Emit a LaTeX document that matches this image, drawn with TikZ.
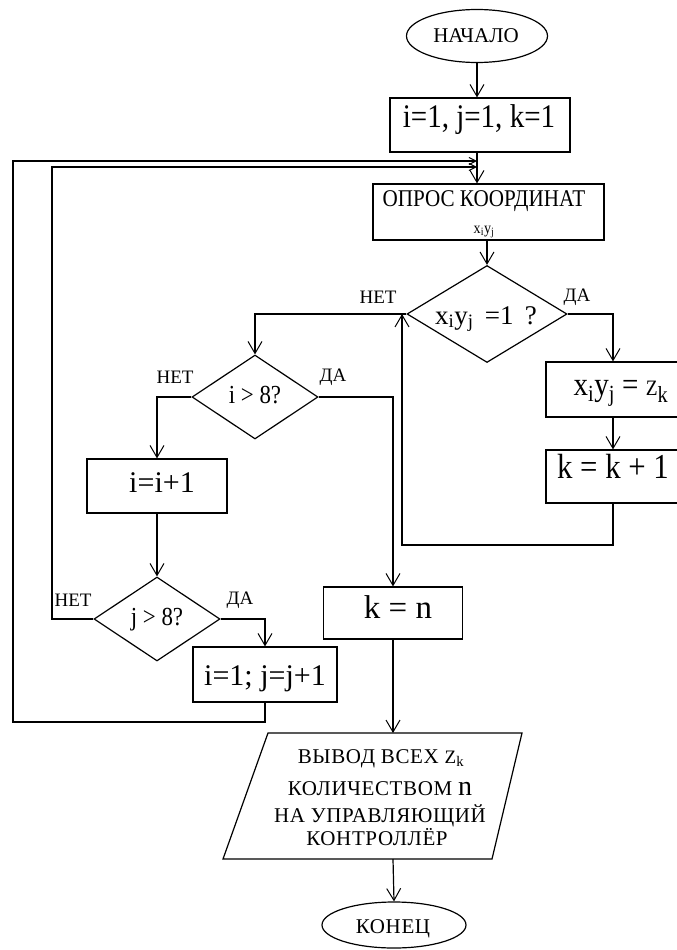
\documentclass[tikz,border=0pt]{standalone}
\usepackage{fontspec}
\setmainfont{Liberation Serif}
\newfontfamily\cond[FakeStretch=0.88]{Liberation Serif}
\newfontfamily\spaced[LetterSpace=3]{Liberation Serif}
\usetikzlibrary{shapes.geometric,arrows.meta}
\newcommand{\fsz}[1]{\fontsize{#1}{#1}\selectfont}
\begin{document}
\begin{tikzpicture}[x=1pt,y=-1pt,line width=1.2pt,
  boxn/.style={draw,rectangle,inner sep=0pt},
  dian/.style={draw,diamond,inner sep=0pt},
  ellin/.style={draw,ellipse,inner sep=0pt},
  txt/.style={inner sep=0pt,anchor=base},
  arr/.style={-{Straight Barb[length=12pt,width=14pt,line width=1pt]}},
  sarr/.style={-{Straight Barb[length=7pt,width=7pt,line width=1pt]}},
  lbl/.style={inner sep=0pt,font=\fsz{19}}]
\useasboundingbox (0,0) rectangle (677,950);
% nodes
\node[ellin,minimum width=141,minimum height=53] (start) at (477,36) {};
\node[txt,font=\fsz{21}] (tstart) at (476,43) {НАЧАЛО};
\node[boxn,minimum width=180,minimum height=54] (init) at (480,125) {};
\node[txt,font=\fsz{33}\cond] (tinit) at (479,127) {i=1, j=1, k=1};
\node[boxn,minimum width=231,minimum height=56] (opros) at (488.5,212) {};
\node[txt,font=\fsz{24}\cond] (topros1) at (484,206) {ОПРОС КООРДИНАТ};
\node[txt,font=\fsz{16}\cond] (topros2) at (484,233) {x\textsubscript{i}y\textsubscript{j}};
\node[dian,minimum width=160,minimum height=97] (d1) at (487,314) {};
\node[txt,font=\fsz{27}] (td1) at (486,324) {x\textsubscript{i}y\textsubscript{j}\, =1 \,?};
\node[boxn,minimum width=134,minimum height=55] (b1) at (613,389.5) {};
\node[txt,font=\fsz{33}\cond] (tb1) at (621,395) {x\textsubscript{i}y\textsubscript{j} = {\fsz{22}Z}\textsubscript{k}};
\node[boxn,minimum width=134,minimum height=53] (b2) at (613,476.5) {};
\node[txt,font=\fsz{35}\cond] (tb2) at (613,478) {k = k + 1};
\node[dian,minimum width=126,minimum height=84] (d2) at (255,397) {};
\node[txt,font=\fsz{26}\cond] (td2) at (255,403) {i > 8?};
\node[boxn,minimum width=140,minimum height=54] (b3) at (157,486) {};
\node[txt,font=\fsz{30}] (tb3) at (162,492) {i=i+1};
\node[dian,minimum width=126,minimum height=84] (d3) at (157,619) {};
\node[txt,font=\fsz{26}\cond] (td3) at (157,625) {j > 8?};
\node[boxn,minimum width=144,minimum height=55] (b4) at (265,674.5) {};
\node[txt,font=\fsz{30}] (tb4) at (265,685) {i=1; j=j+1};
\node[boxn,minimum width=139,minimum height=52] (b5) at (393,613) {};
\node[txt,font=\fsz{33}] (tb5) at (398,618) {k = n};
% parallelogram
\draw (268,733) -- (522,733) -- (492,859) -- (223,859) -- cycle;
\coordinate (ptop) at (393,733);
\coordinate (pbot) at (393,859);
\node[txt,font=\fsz{21}\spaced] (p1) at (381,763) {ВЫВОД ВСЕХ {\fsz{19}Z}\textsubscript{k}};
\node[txt,font=\fsz{21}\spaced] (p2) at (380,795) {КОЛИЧЕСТВОМ {\fsz{28}n}};
\node[txt,font=\fsz{21}\spaced] (p3) at (380,822) {НА УПРАВЛЯЮЩИЙ};
\node[txt,font=\fsz{21}\spaced] (p4) at (377,845) {КОНТРОЛЛЁР};
\node[ellin,minimum width=144,minimum height=46] (end) at (394,925) {};
\node[txt,font=\fsz{21}\spaced] (tend) at (393,933) {КОНЕЦ};
% labels
\node[lbl] (l1) at (378,297) {НЕТ};
\node[lbl] (l2) at (577,297) {ДА};
\node[lbl] (l3) at (175,377) {НЕТ};
\node[lbl] (l4) at (333,377) {ДА};
\node[lbl] (l5) at (73,600) {НЕТ};
\node[lbl] (l6) at (240,600) {ДА};
% connectors
\coordinate (m1) at (477,161);
\coordinate (m2) at (477,167);
\coordinate (jn) at (402,314);
\draw[arr] (start.south) -- (start.south |- init.north);
\draw[arr] (start.south |- init.south) -- (start.south |- opros.north);
\draw[sarr] (b4.south) -- (265,722) -- (13,722) -- (13,161) -- (m1);
\draw[sarr] (d3.west) -- (52,619) -- (52,167) -- (m2);
\draw[arr] (d1.north |- opros.south) -- (d1.north);
\draw[arr] (d1.east) -| (b1.north);
\draw[arr] (b1.south) -- (b2.north);
\draw[arr] (b2.south) -- (613,545) -- (402,545) -- (jn);
\draw[arr] (d1.west) -| (d2.north);
\draw[arr] (d2.west) -| (b3.north);
\draw[arr] (b3.south) -- (d3.north);
\draw[arr] (d3.east) -| (b4.north);
\draw[arr] (d2.east) -| (b5.north);
\draw[arr] (b5.south) -- (ptop);
\draw[arr] (pbot) -- (end.north);
\end{tikzpicture}
\end{document}
